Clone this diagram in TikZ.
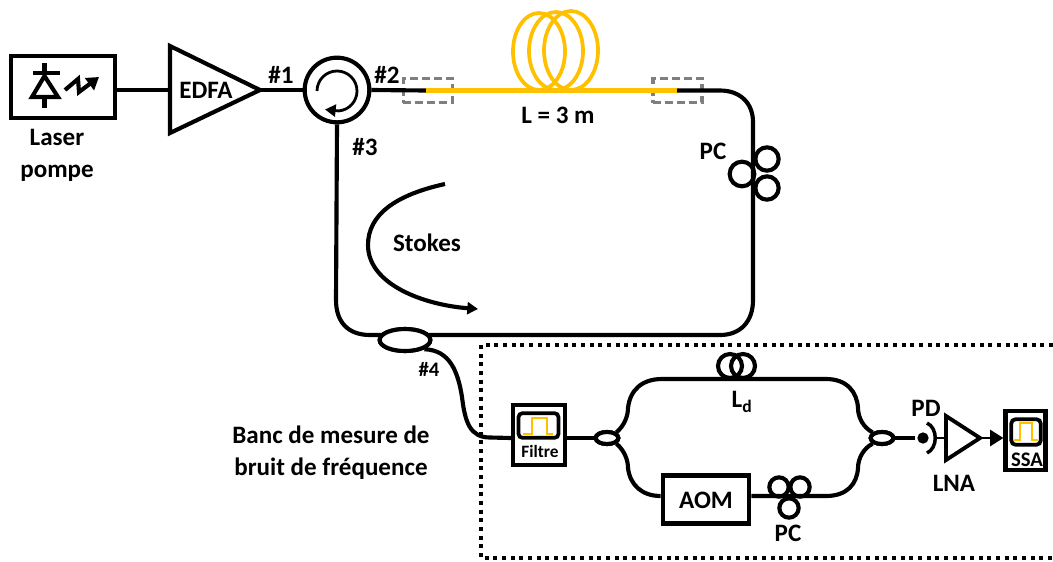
\documentclass[tikz,border=0pt]{standalone}
\usepackage{fontspec}
\setmainfont{Carlito}
\usetikzlibrary{arrows.meta,shapes.geometric}
\definecolor{fibre}{RGB}{255,192,0}
\definecolor{splice}{RGB}{127,127,127}
\tikzset{
  x=0.75pt,y=-0.75pt,
  wire/.style={line width=3.1pt,black},
  yellowfibre/.style={line width=3.3pt,fibre},
  pulse/.style={line width=1.5pt,fibre},
  devbox/.style={draw,line width=3.1pt,fill=white,inner sep=0pt},
  label/.style={font=\bfseries\fontsize{18.8}{22.5}\selectfont,align=center,inner sep=0pt,text=black},
  small label/.style={font=\bfseries\fontsize{15.5}{18}\selectfont,align=center,inner sep=0pt,text=black},
  coupler/.style={draw,ellipse,line width=3.1pt,fill=white,inner sep=0pt},
  loop/.style={draw,circle,line width=3.1pt,inner sep=0pt},
  splicebox/.style={draw=splice,line width=2.6pt,dash pattern=on 6pt off 3pt,inner sep=0pt},
  framedots/.style={line width=3pt,dash pattern=on 3pt off 3.5pt},
}
\begin{document}
\begin{tikzpicture}
\useasboundingbox (0,0) rectangle (1053,561);
% frame
\draw[framedots] (1053,345) -- (481,345) -- (481,558) -- (1053,558);
% main ring
\coordinate (edfaL) at (170,90);
\coordinate (edfaR) at (260,90);
\node[devbox,minimum width=78.5pt,minimum height=46.5pt] (laser) at (63,87) {};
\node[draw,circle,line width=3.1pt,minimum size=48.5pt,inner sep=0pt] (circ) at (337,90) {};
\node[coupler,minimum width=38pt,minimum height=16.5pt] (c1) at (405,340) {};
\coordinate (c1a) at (385,335);
\coordinate (c1b) at (425,335);
\node[splicebox,minimum width=37pt,minimum height=18pt] (s1) at (428,90.5) {};
\node[splicebox,minimum width=37pt,minimum height=18pt] (s2) at (677.5,90.5) {};
\coordinate (y1) at (426,90.5);
\coordinate (y2) at (677,90.5);
\draw[wire] (laser.east |- edfaL) -- (edfaL);
\draw[wire] (edfaR) -- (circ);
\draw[wire] (circ.east) -- (y1);
\draw[wire] (y2) -- (720,90.5) .. controls (740,90.5) and (753,103) .. (753,122) -- (753,300) .. controls (753,322) and (740,335) .. (720,335) -- (c1b);
\draw[wire] (circ.south) -- (336,300) .. controls (336,322) and (348,335) .. (370,335) -- (c1a);
% yellow fibre
\draw[yellowfibre,line width=2.8pt] (539,51.5) ellipse (26 and 38.5);
\draw[yellowfibre,line width=2.8pt] (556,51) ellipse (27 and 39);
\draw[yellowfibre,line width=2.8pt] (571,50.5) ellipse (27 and 39.5);
\draw[yellowfibre] (y1) -- (y2);
% EDFA
\draw[devbox,line join=miter] (170,46) -- (260,90) -- (170,133) -- cycle;
% laser symbol
\draw[line width=3.1pt] (44.5,63) -- (44.5,73) (44.5,97) -- (44.5,108);
\draw[line width=3.1pt] (33,73) -- (60,73);
\draw[line width=3.1pt,line join=miter] (44.5,76) -- (32,97) -- (58,97) -- cycle;
\draw[line width=3.1pt,-{Triangle[length=9pt,width=11pt]}] (65,90) -- (78,79) -- (79,92) -- (99,77);
% circulator arrow
\draw[line width=2.1pt,-{Triangle[length=8pt,width=9pt]}] (317,91) arc[start angle=180,end angle=445,radius=20] -- (325,109.5);
% PC upper
\node[loop,minimum size=18.5pt] (pc1a) at (742,174) {};
\node[loop,minimum size=17.5pt] (pc1b) at (767,159) {};
\node[loop,minimum size=17.5pt] (pc1c) at (767,188) {};
% Stokes
\coordinate (st1) at (445,184);
\coordinate (st2) at (478,309);
\draw[wire,-{Triangle[length=8pt,width=9pt]}] (st1) .. controls (395,195) and (368,215) .. (368,245) .. controls (368,285) and (425,305) .. (st2);
% bench
\node[devbox,minimum width=39pt,minimum height=45.5pt] (filt) at (539,435) {};
\node[draw,rounded corners=3pt,line width=2.8pt,minimum width=30pt,minimum height=18.5pt,inner sep=0pt] (fscr) at (538.5,425.5) {};
\draw[pulse] (523,434) -- (531.5,434) -- (531.5,417.5) -- (547,417.5) -- (547,434) -- (553,434);
\node[coupler,minimum width=17pt,minimum height=9pt] (c2) at (607,438) {};
\node[coupler,minimum width=17pt,minimum height=9pt] (c3) at (882,438) {};
\node[devbox,minimum width=65pt,minimum height=36pt] (aom) at (706,499.5) {};
\draw[wire] (c1.south east) .. controls (450,350) and (458,372) .. (462,397) .. controls (465,422) and (470,437.5) .. (490,437.5) -- (filt.west |- c2);
\draw[wire] (filt.east |- c2) -- (c2.west);
\draw[wire] (c2.north east) .. controls (625,425) and (628,415) .. (628,408) .. controls (630,390) and (642,379) .. (662,379) -- (826,379) .. controls (847,379) and (857,392) .. (858,408) .. controls (858,418) and (864,428) .. (c3.north west);
\draw[wire] (c2.south east) .. controls (625,451) and (628,461) .. (628,468) .. controls (630,485) and (642,496) .. (aom.west |- 0,496);
\draw[wire] (aom.east |- 0,496) -- (826,496) .. controls (847,496) and (857,484) .. (858,468) .. controls (858,458) and (864,448) .. (c3.south west);
% re-draw couplers on top of wires
\node[coupler,minimum width=38pt,minimum height=16.5pt] at (405,340) {};
\node[coupler,minimum width=17pt,minimum height=9pt] at (607,438) {};
\node[coupler,minimum width=17pt,minimum height=9pt] at (882,438) {};
\node[loop,minimum size=18pt] (ld1) at (730,366) {};
\node[loop,minimum size=18pt] (ld2) at (743,366) {};
\node[loop,minimum size=14.5pt] (pc2a) at (779,487) {};
\node[loop,minimum size=14.5pt] (pc2b) at (800,487) {};
\node[loop,minimum size=14.5pt] (pc2c) at (789,508) {};
% detection
\node[circle,fill=black,minimum size=8.5pt,inner sep=0pt] (pd) at (923,438) {};
\coordinate (pdL) at (915,438);
\coordinate (pdR) at (937,438);
\coordinate (lnaL) at (946,438);
\coordinate (lnaR) at (982,438);
\node[devbox,minimum width=30pt,minimum height=44.5pt] (ssa) at (1025.5,440.5) {};
\node[draw,rounded corners=3pt,line width=2.8pt,minimum width=22pt,minimum height=19pt,inner sep=0pt] (sscr) at (1026,432) {};
\draw[pulse] (1014,440) -- (1019.5,440) -- (1019.5,423) -- (1032,423) -- (1032,440) -- (1038,440);
\draw[line width=3.4pt] (c3.east) -- (pdL);
\draw[line width=2.6pt] (927,423) .. controls (938,428) and (938,448) .. (927,453);
\draw[line width=1.9pt] (pdR) -- (lnaL);
\draw[line width=2.9pt,line join=miter] (946,416) -- (980,438) -- (946,460) -- cycle;
\draw[line width=2pt,-{Triangle[length=10pt,width=12pt]}] (lnaR) -- (ssa.west |- lnaR);
% labels
\node[label] (tlaser) at (57,155) {Laser\\[1.5pt]pompe};
\node[label] (tedfa) at (206,90) {EDFA};
\node[label] (t1) at (281,75) {\#1};
\node[label] (t2) at (387,75) {\#2};
\node[label] (t3) at (365,147) {\#3};
\node[small label] (t4) at (429,369) {\#4};
\node[label] (tl) at (558,115) {L = 3 m};
\node[label] (tpc1) at (713,151) {PC};
\node[label] (tst) at (427,243) {Stokes};
\node[label,align=center] (tbanc) at (331,453) {Banc de mesure de\\[1.5pt]bruit de fréquence};
\node[font=\bfseries\fontsize{13}{15}\selectfont,inner sep=0pt] (tfilt) at (540,451) {Filtre};
\node[label] (tld) at (742,402) {L\textsubscript{d}};
\node[label] (taom) at (706,500) {AOM};
\node[label] (tpc2) at (788,533) {PC};
\node[label] (tpd) at (926,408) {PD};
\node[label] (tlna) at (954,483) {LNA};
\node[font=\bfseries\fontsize{15.5}{18}\selectfont,inner sep=0pt] (tssa) at (1027,460) {SSA};
\end{tikzpicture}
\end{document}
